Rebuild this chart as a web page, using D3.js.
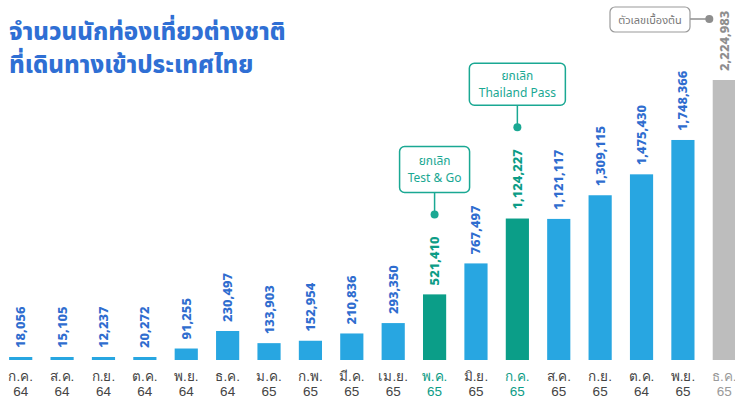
<!DOCTYPE html>
<html>
<head>
<meta charset="utf-8">
<script src="https://cdn.jsdelivr.net/npm/d3@7"></script>
<style>
	body { margin: 0; background: #fff; }
	svg { display: block; font-family: "Noto Sans Thai", "Noto Sans", sans-serif; }
	.title { font-size: 24px; font-weight: 800; fill: #2f6fd4; }
	.value { font-size: 13px; font-weight: 800; }
	.month { font-size: 13.5px; }
	.note { font-size: 12px; }
</style>
</head>
<body>
<svg width="735" height="398"></svg>
<script>
const months = ['ก.ค.', 'ส.ค.', 'ก.ย.', 'ต.ค.', 'พ.ย.', 'ธ.ค.', 'ม.ค.', 'ก.พ.', 'มี.ค.', 'เม.ย.',
	'พ.ค.', 'มิ.ย.', 'ก.ค.', 'ส.ค.', 'ก.ย.', 'ต.ค.', 'พ.ย.', 'ธ.ค.'];
const years = ['64', '64', '64', '64', '64', '64', '65', '65', '65', '65',
	'65', '65', '65', '65', '65', '64', '65', '65'];
const visitors = [18056, 15105, 12237, 20272, 91255, 230497, 133903, 152954, 210836, 293350,
	521410, 767497, 1124227, 1121117, 1309115, 1475430, 1748366, 2224983];
// 'n' normal, 'h' highlighted (policy change), 'p' preliminary
const kinds = ['n', 'n', 'n', 'n', 'n', 'n', 'n', 'n', 'n', 'n',
	'h', 'n', 'h', 'n', 'n', 'n', 'n', 'p'];
const titleLines = ['จำนวนนักท่องเที่ยวต่างชาติ', 'ที่เดินทางเข้าประเทศไทย'];
const notes = [
	{idx: 10, lines: ['ยกเลิก', 'Test & Go']},
	{idx: 12, lines: ['ยกเลิก', 'Thailand Pass']}
];
const prelimNote = 'ตัวเลขเบื้องต้น';

const barColor = {n: '#28a6e1', h: '#0b9e88', p: '#bdbdbd'},
	valueColor = {n: '#2f6dcf', h: '#0c9c86', p: '#8e8e8e'},
	monthColor = {n: '#444', h: '#0c9c86', p: '#9a9a9a'},
	teal = '#1aa893';

const svg = d3.select('svg');
const keys = d3.range(visitors.length);

const xScale = d3.scaleBand()
	.domain(keys)
	.range([0, 745])
	.paddingInner(0.44)
	.paddingOuter(0.22);

const yScale = d3.scaleLinear()
	.domain([0, d3.max(visitors)])
	.range([360, 80]);

const fmt = d3.format(',');
const cx = i => xScale(i) + xScale.bandwidth() / 2;
const barTop = d => Math.min(yScale(d), 357);

// title
svg.append('text')
	.attr('class', 'title')
	.selectAll('tspan')
	.data(titleLines)
	.enter()
	.append('tspan')
	.attr('x', 9)
	.attr('y', (d, i) => 40 + i * 33)
	.text(d => d);

// bars
svg.append('g')
	.selectAll('rect')
	.data(visitors)
	.enter()
	.append('rect')
	.attr('x', (d, i) => xScale(i))
	.attr('y', d => barTop(d))
	.attr('width', xScale.bandwidth())
	.attr('height', d => 360 - barTop(d))
	.attr('fill', (d, i) => barColor[kinds[i]]);

// value labels, rotated
let labelTops = [];
svg.append('g')
	.selectAll('text')
	.data(visitors)
	.enter()
	.append('text')
	.attr('class', 'value')
	.attr('transform', (d, i) => `translate(${cx(i) + 4.5},${barTop(d) - 9}) rotate(-90)`)
	.attr('fill', (d, i) => valueColor[kinds[i]])
	.text(d => fmt(d))
	.each(function(d, i) {
		labelTops[i] = barTop(d) - 9 - this.getComputedTextLength();
	});

// month axis
const axis = svg.append('g')
	.attr('transform', 'translate(0,360)')
	.call(d3.axisBottom(xScale).tickSize(0).tickFormat(''));
axis.select('.domain').remove();
axis.selectAll('.tick text').remove();
axis.selectAll('.tick')
	.append('text')
	.attr('class', 'month')
	.attr('text-anchor', 'middle')
	.attr('fill', i => monthColor[kinds[i]])
	.selectAll('tspan')
	.data(i => [months[i], years[i]])
	.enter()
	.append('tspan')
	.attr('x', 0)
	.attr('y', (d, j) => 21 + j * 15)
	.text(d => d);

// policy annotations
notes.forEach(function(n) {
	let x = cx(n.idx),
		dot = labelTops[n.idx] - 22,
		boxW = n.lines[1].length > 10 ? 96 : 70,
		boxH = n.lines[1].length > 10 ? 42 : 46,
		boxBottom = dot - 22,
		g = svg.append('g');
	g.append('line')
		.attr('x1', x).attr('x2', x)
		.attr('y1', boxBottom).attr('y2', dot)
		.attr('stroke', teal).attr('stroke-width', 1.5);
	g.append('circle')
		.attr('cx', x).attr('cy', dot).attr('r', 4)
		.attr('fill', teal);
	g.append('rect')
		.attr('x', x - boxW / 2).attr('y', boxBottom - boxH)
		.attr('width', boxW).attr('height', boxH)
		.attr('rx', 5)
		.attr('fill', '#fff')
		.attr('stroke', teal).attr('stroke-width', 1.5);
	g.append('text')
		.attr('class', 'note')
		.attr('text-anchor', 'middle')
		.attr('fill', teal)
		.selectAll('tspan')
		.data(n.lines)
		.enter()
		.append('tspan')
		.attr('x', x)
		.attr('y', (d, j) => boxBottom - boxH / 2 - 4 + j * 17)
		.text(d => d);
});

// preliminary note
const last = visitors.length - 1,
	pg = svg.append('g');
pg.append('line')
	.attr('x1', 690).attr('x2', cx(last) - 15)
	.attr('y1', 19).attr('y2', 19)
	.attr('stroke', '#8e8e8e').attr('stroke-width', 1.5);
pg.append('circle')
	.attr('cx', cx(last) - 15).attr('cy', 19).attr('r', 4)
	.attr('fill', '#8e8e8e');
pg.append('rect')
	.attr('x', 610).attr('y', 7)
	.attr('width', 80).attr('height', 25)
	.attr('rx', 5)
	.attr('fill', '#fff')
	.attr('stroke', '#9a9a9a').attr('stroke-width', 1.2);
pg.append('text')
	.attr('class', 'note')
	.attr('x', 650).attr('y', 24)
	.attr('text-anchor', 'middle')
	.attr('fill', '#777')
	.style('font-size', '11px')
	.text(prelimNote);
</script>
</body>
</html>
